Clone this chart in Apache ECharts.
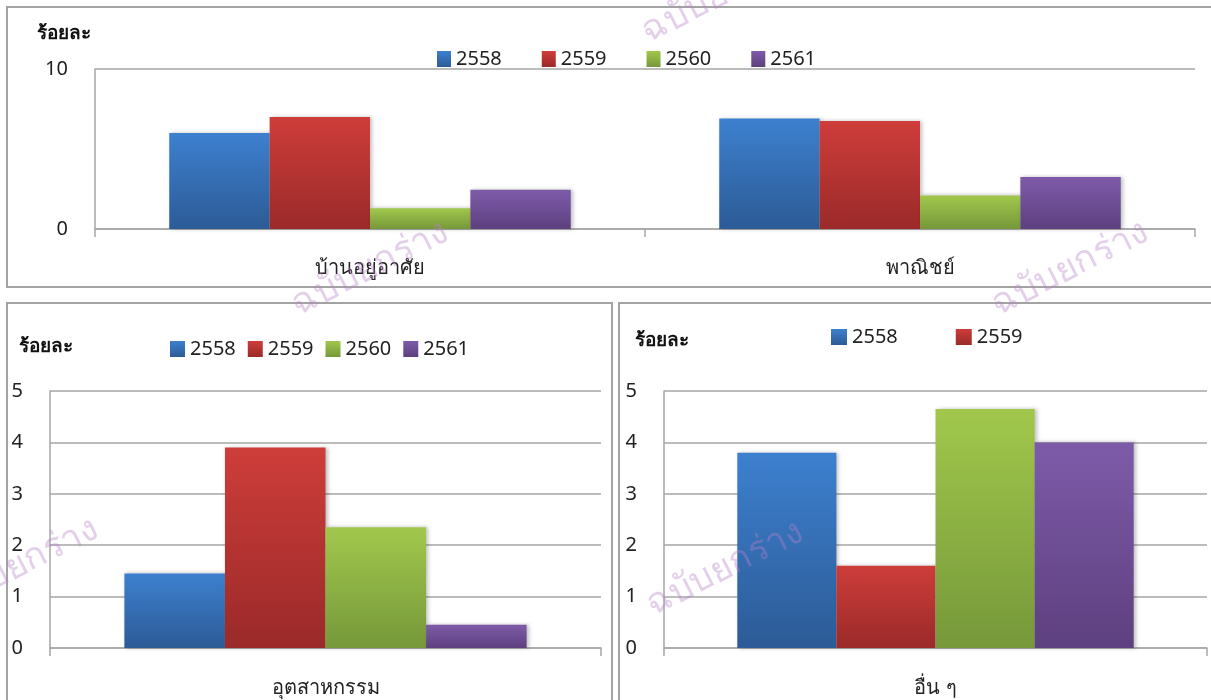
<!DOCTYPE html>
<html><head><meta charset="utf-8">
<script src="https://cdn.jsdelivr.net/npm/echarts@6/dist/echarts.min.js"></script>
<style>html,body{margin:0;padding:0;background:#fff}#c{width:1211px;height:700px}</style>
</head><body><div id="c"></div>
<script>
const years = ['2558', '2559', '2560', '2561'];
const topCategories = ['บ้านอยู่อาศัย', 'พาณิชย์'];
const top2558 = [6.0, 6.9];
const top2559 = [7.0, 6.75];
const top2560 = [1.3, 2.1];
const top2561 = [2.45, 3.25];
const industryCategory = ['อุตสาหกรรม'];
const industryByYear = [1.45, 3.9, 2.35, 0.45];
const otherCategory = ['อื่น ๆ'];
const otherByYear = [3.8, 1.6, 4.65, 4.0];
const topTicks = [0, 10];
const bottomTicks = [0, 1, 2, 3, 4, 5];
const unitLabel = 'ร้อยละ';
const watermarkText = 'ฉบับยกร่าง';

const FONT = '"Noto Sans", "Liberation Sans", sans-serif';
const grads = [
  ['#3d80cf', '#2c5b96'],
  ['#ce3d3a', '#9a2a29'],
  ['#a1c84c', '#76983a'],
  ['#7e5ba9', '#5d407f']
];
function grad(i) {
  return new echarts.graphic.LinearGradient(0, 0, 0, 1, [
    {offset: 0, color: grads[i][0]}, {offset: 1, color: grads[i][1]}
  ]);
}
const gridLineColor = '#a6a6a6';
function yAxis(gi, max, interval) {
  return {
    type: 'value', gridIndex: gi, min: 0, max: max, interval: interval,
    axisLine: {show: true, lineStyle: {color: gridLineColor, width: 1.5}},
    axisTick: {show: false},
    splitLine: {lineStyle: {color: gridLineColor, width: 1.5}},
    axisLabel: {color: '#222', fontSize: 20, fontFamily: FONT, margin: 27}
  };
}
function xAxis(gi, cats, margin) {
  return {
    type: 'category', gridIndex: gi, data: cats,
    axisLine: {lineStyle: {color: gridLineColor, width: 1.5}},
    axisTick: {show: true, length: 8, lineStyle: {color: gridLineColor, width: 1.5}},
    axisLabel: {color: '#222', fontSize: 20, fontFamily: FONT, margin: margin}
  };
}
const topSeriesData = [top2558, top2559, top2560, top2561];
const series = [];
years.forEach((y, i) => {
  series.push({name: y, type: 'bar', xAxisIndex: 0, yAxisIndex: 0, data: topSeriesData[i]});
});
years.forEach((y, i) => {
  series.push({name: y, type: 'bar', xAxisIndex: 1, yAxisIndex: 1, data: [industryByYear[i]]});
});
years.forEach((y, i) => {
  series.push({name: y, type: 'bar', xAxisIndex: 2, yAxisIndex: 2, data: [otherByYear[i]]});
});
series.forEach(s => {
  const i = years.indexOf(s.name);
  s.barGap = '0%';
  s.barCategoryGap = '27%';
  s.itemStyle = {color: grad(i), shadowColor: 'rgba(0,0,0,0.25)', shadowBlur: 4, shadowOffsetX: 2, shadowOffsetY: 0};
  s.emphasis = {disabled: true};
  s.z = 2;
});

function panel(x, y, w, h) {
  return {type: 'rect', shape: {x: x, y: y, width: w, height: h},
    style: {fill: 'none', stroke: '#a3a3a3', lineWidth: 2}, z: 0, silent: true};
}
function wm(x, y) {
  return {type: 'text', x: x, y: y, rotation: 0.47, z: 100, silent: true,
    style: {text: watermarkText, fill: 'rgba(185,130,200,0.38)', font: '36px ' + FONT,
      align: 'center', verticalAlign: 'middle'}};
}
const legendText = {color: '#222', fontSize: 20, fontFamily: FONT};
const option = {
  animation: false,
  backgroundColor: '#fff',
  title: [
    {text: unitLabel, left: 32, top: 19, textStyle: {fontSize: 19, fontWeight: 'bold', color: '#111', fontFamily: FONT}},
    {text: unitLabel, left: 14, top: 332, textStyle: {fontSize: 19, fontWeight: 'bold', color: '#111', fontFamily: FONT}},
    {text: unitLabel, left: 630, top: 326, textStyle: {fontSize: 19, fontWeight: 'bold', color: '#111', fontFamily: FONT}}
  ],
  legend: [
    {data: years, icon: 'rect', left: 432, top: 44, itemWidth: 14, itemHeight: 16, itemGap: 40, textStyle: legendText, selectedMode: false},
    {data: years, icon: 'rect', left: 165, top: 334, itemWidth: 15, itemHeight: 16, itemGap: 12, textStyle: legendText, selectedMode: false},
    {data: years.slice(0, 2), icon: 'rect', left: 826, top: 322, itemWidth: 16, itemHeight: 16, itemGap: 58, textStyle: legendText, selectedMode: false}
  ],
  grid: [
    {left: 95, top: 69, width: 1100, height: 160},
    {left: 50, top: 391, width: 551, height: 257},
    {left: 664, top: 391, width: 543, height: 257}
  ],
  xAxis: [xAxis(0, topCategories, 29), xAxis(1, industryCategory, 30), xAxis(2, otherCategory, 30)],
  yAxis: [yAxis(0, 10, 10), yAxis(1, 5, 1), yAxis(2, 5, 1)],
  series: series,
  graphic: [
    panel(7, 7, 1210, 280),
    panel(7, 303, 605, 410),
    panel(619, 303, 600, 410),
    wm(720, -5), wm(370, 268), wm(1070, 268), wm(20, 565), wm(725, 568)
  ]
};
const chart = echarts.init(document.getElementById('c'));
chart.setOption(option);
</script></body></html>
